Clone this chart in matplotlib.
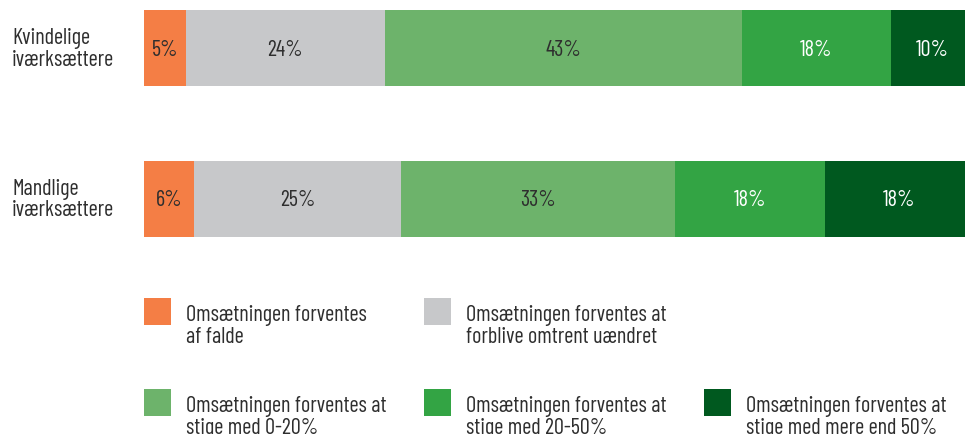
import matplotlib
matplotlib.use("Agg")
import matplotlib.pyplot as plt
from matplotlib.patches import Rectangle

categories = ["Kvindelige\niværksættere", "Mandlige\niværksættere"]
series_names = [
    "Omsætningen forventes\naf falde",
    "Omsætningen forventes at\nforblive omtrent uændret",
    "Omsætningen forventes at\nstige med 0-20%",
    "Omsætningen forventes at\nstige med 20-50%",
    "Omsætningen forventes at\nstige med mere end 50%",
]
values = [
    [5, 6],
    [24, 25],
    [43, 33],
    [18, 18],
    [10, 18],
]
colors = ["#F47E45", "#C7C8CA", "#6DB36B", "#33A444", "#00591F"]
text_colors = ["#2E2E2E", "#2E2E2E", "#2E2E2E", "#FFFFFF", "#FFFFFF"]

FONT = ["Barlow Condensed", "DejaVu Sans"]
plt.rcParams["font.family"] = FONT
FS = 16
PT = 72 / 100  # points per pixel

W, H = 965, 435
fig = plt.figure(figsize=(W / 100, H / 100), dpi=100)

def px(x0, y0, x1, y1):
    return [x0 / W, 1 - y1 / H, (x1 - x0) / W, (y1 - y0) / H]

ax = fig.add_axes(px(144, 11, 965, 238))
bar_h = 0.507
ypos = list(range(len(categories)))
lefts = [0] * len(categories)
for vals, c, tc in zip(values, colors, text_colors):
    ax.barh(ypos, vals, left=lefts, height=bar_h, color=c, edgecolor="none")
    for y, v, l in zip(ypos, vals, lefts):
        ax.annotate(f"{v}%", xy=(l + v / 2, y), xytext=(0, -6.5 * PT),
                    textcoords="offset points", ha="center", va="baseline",
                    fontsize=FS, color=tc)
    lefts = [l + v for l, v in zip(lefts, vals)]

ax.set_xlim(0, 821 / 8.3)
ax.set_ylim(len(categories) - 1 + bar_h / 2, -bar_h / 2)
ax.axis("off")

# category labels (baseline of last line)
for y, cat in zip(ypos, categories):
    ax.annotate(cat, xy=(12 / W, y), xycoords=("figure fraction", "data"),
                xytext=(0, -16.5 * PT), textcoords="offset points",
                ha="left", va="baseline", fontsize=FS, color="#2E2E2E",
                linespacing=1.05)

# legend
leg_pos = [(144, 299), (424, 299), (144, 390), (424, 390), (704, 390)]
for (x, y), name, c in zip(leg_pos, series_names, colors):
    fig.add_artist(Rectangle((x / W, 1 - (y + 27) / H), 27 / W, 27 / H,
                             transform=fig.transFigure, color=c, lw=0))
    fig.text((x + 42) / W, 1 - (y + 44) / H, name, ha="left", va="baseline",
             fontsize=FS, color="#2E2E2E", linespacing=1.05)

fig.savefig("out.png", dpi=100)
